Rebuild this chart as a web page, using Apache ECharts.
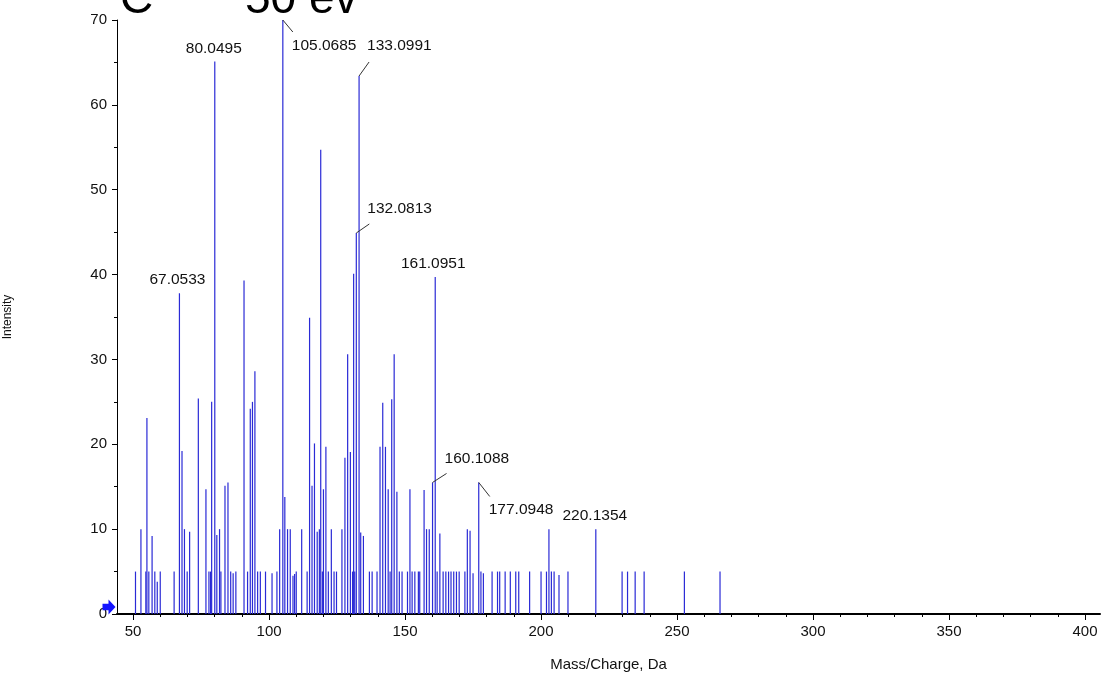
<!DOCTYPE html>
<html>
<head>
<meta charset="utf-8">
<title>50 eV product ion spectrum</title>
<script src="https://cdn.jsdelivr.net/npm/echarts@6/dist/echarts.min.js"></script>
<style>
  html, body { margin: 0; padding: 0; background: #ffffff; }
  #chart { width: 1103px; height: 681px; }
</style>
</head>
<body>
<div id="chart"></div>
<script>
// Centroided peak list: m/z (Da) and relative intensity
const mzValues = [
  50.9, 52.9, 54.7, 55.1, 55.8, 57.0, 58.0, 58.9, 60.0, 65.1,
  67.0533, 68.0, 68.9, 69.9, 70.8, 74.0, 76.8, 77.9, 78.5, 78.9,
  80.0495, 80.8, 81.8, 82.3, 83.8, 84.9, 85.9, 86.8, 87.8, 90.8,
  92.1, 93.1, 93.9, 94.8, 95.8, 96.8, 98.7, 101.1, 102.9, 103.9,
  105.0685, 105.8, 106.8, 107.8, 108.8, 109.4, 110.0, 112.0, 114.0, 114.9,
  115.8, 116.7, 117.7, 118.5, 119.0, 119.6, 120.0, 120.9, 121.8, 122.9,
  123.9, 124.8, 126.8, 127.9, 128.9, 129.9, 130.7, 131.1, 131.5, 132.0813,
  133.0991, 133.7, 134.7, 136.9, 137.9, 139.7, 140.8, 141.8, 142.8, 143.8,
  144.5, 145.1, 146.0, 147.0, 147.9, 148.9, 150.9, 151.8, 152.6, 153.6,
  154.9, 155.4, 157.0, 157.9, 158.9, 160.1088, 161.0951, 161.8, 162.8, 164.0,
  165.0, 166.0, 166.9, 167.9, 168.9, 169.9, 172.0, 172.9, 173.9, 175.0,
  177.0948, 177.9, 178.8, 182.0, 184.0, 184.8, 186.8, 188.7, 190.7, 191.8,
  195.8, 200.0, 202.0, 202.9, 203.8, 204.8, 206.6, 209.9, 220.1354, 229.8,
  231.8, 234.6, 237.9, 252.7, 265.8
];
const intensities = [
  5, 10, 5, 23.1, 5, 9.2, 5, 3.8, 5, 5,
  37.8, 19.2, 10, 5, 9.7, 25.4, 14.7, 5, 5, 25,
  65.1, 9.3, 10, 5, 15.1, 15.5, 5, 4.8, 5, 39.3,
  5, 24.2, 25, 28.6, 5, 5, 5, 4.8, 5, 10,
  70, 13.8, 10, 10, 4.5, 4.7, 5, 10, 5, 34.9,
  15.1, 20.1, 9.7, 10, 54.7, 5, 14.7, 19.7, 5, 10,
  5, 5, 10, 18.4, 30.6, 19.1, 5, 40.1, 5, 44.9,
  63.4, 9.6, 9.2, 5, 5, 5, 19.7, 24.9, 19.7, 14.7,
  5, 25.3, 30.6, 14.4, 5, 5, 5, 14.7, 5, 5,
  5, 5, 14.6, 10, 10, 15.5, 39.7, 5, 9.5, 5,
  5, 5, 5, 5, 5, 5, 5, 10, 9.8, 4.8,
  15.5, 5, 4.8, 5, 5, 5, 5, 5, 5, 5,
  5, 5, 5, 10, 5, 5, 4.6, 5, 10, 5,
  5, 5, 5, 5, 5
];

// Peaks carrying an m/z annotation
const labelledMz = [67.0533, 80.0495, 105.0685, 133.0991, 132.0813, 161.0951, 160.1088, 177.0948, 220.1354];

// Axis ticks
const majorTicks = [50, 100, 150, 200, 250, 300, 350, 400];
const minorTicks = [60, 70, 80, 90, 110, 120, 130, 140, 160, 170, 180, 190, 210, 220, 230, 240,
                    260, 270, 280, 290, 310, 320, 330, 340, 360, 370, 380, 390];

const titleLeft = 'C';
const titleRight = '50 ev';
const xName = 'Mass/Charge, Da';
const yName = 'Intensity';

// Label placement around each annotated peak top (pixels): text anchor offset and optional leader end
const placement = {
  '67.0533':  { dx: -2,  dy: -14, align: 'center' },
  '80.0495':  { dx: -1,  dy: -13, align: 'center' },
  '105.0685': { dx: 9,   dy: 26,  align: 'left', lx: 10, ly: 12 },
  '133.0991': { dx: 8,   dy: -30, align: 'left', lx: 10, ly: -14 },
  '132.0813': { dx: 11,  dy: -24, align: 'left', lx: 13, ly: -9 },
  '161.0951': { dx: -2,  dy: -13, align: 'center' },
  '160.1088': { dx: 12,  dy: -24, align: 'left', lx: 14, ly: -9 },
  '177.0948': { dx: 10,  dy: 27,  align: 'left', lx: 11, ly: 14 },
  '220.1354': { dx: -1,  dy: -13, align: 'center' }
};

const FONT = '"Liberation Sans", Arial, sans-serif';
const peakData = mzValues.map((m, i) => [m, intensities[i]]);
const labelData = labelledMz.map(m => [m, intensities[mzValues.indexOf(m)]]);

const chart = echarts.init(document.getElementById('chart'), null, { renderer: 'canvas' });

chart.setOption({
  animation: false,
  backgroundColor: '#ffffff',
  textStyle: { fontFamily: FONT },
  grid: { left: 117, right: 3, top: 20, bottom: 67, containLabel: false, outerBoundsMode: 'none' },
  graphic: [
    { type: 'text', left: 120, top: -23, silent: true,
      style: { text: titleLeft, font: '46px ' + FONT, fill: '#000' } },
    { type: 'text', left: 245, top: -23, silent: true,
      style: { text: titleRight, font: '46px ' + FONT, fill: '#000' } }
  ],
  xAxis: [
    {
      type: 'value', min: 44.1, max: 405.5,
      name: xName, nameLocation: 'middle', nameGap: 43,
      nameTextStyle: { fontSize: 15, color: '#111', fontFamily: FONT },
      axisLine: { show: true, onZero: false, lineStyle: { color: '#000', width: 2 } },
      axisTick: { show: true, length: 6, customValues: majorTicks, lineStyle: { color: '#000', width: 1 } },
      axisLabel: { customValues: majorTicks, margin: 10, fontSize: 15, color: '#111', fontFamily: FONT },
      splitLine: { show: false }
    },
    {
      type: 'value', min: 44.1, max: 405.5, position: 'bottom',
      axisLine: { show: false },
      axisTick: { show: true, length: 3, customValues: minorTicks, lineStyle: { color: '#000', width: 1 } },
      axisLabel: { show: false },
      splitLine: { show: false }
    }
  ],
  yAxis: {
    type: 'value', min: 0, max: 70, interval: 10,
    name: yName, nameLocation: 'middle', nameGap: 103, nameRotate: 90,
    nameTextStyle: { fontSize: 12, color: '#111', fontFamily: FONT },
    axisLine: { show: true, lineStyle: { color: '#000', width: 1 } },
    axisTick: { show: true, length: 5, lineStyle: { color: '#000' } },
    minorTick: { show: true, splitNumber: 2, length: 3, lineStyle: { color: '#000' } },
    axisLabel: { margin: 10, fontSize: 15, color: '#111', fontFamily: FONT },
    splitLine: { show: false }
  },
  series: [
    {
      type: 'bar',
      xAxisIndex: 0,
      data: peakData,
      barWidth: 1.2,
      itemStyle: { color: '#2a2ad6' },
      silent: true,
      markPoint: {
        silent: true,
        symbol: 'path://M0,4 L6,4 L6,0 L13,7 L6,14 L6,10 L0,10 Z',
        symbolSize: [13, 15],
        symbolOffset: [-8, -7],
        itemStyle: { color: '#1414ff' },
        label: { show: false },
        data: [{ coord: [44.1, 0] }]
      }
    },
    {
      type: 'custom',
      xAxisIndex: 0,
      data: labelData,
      clip: false,
      silent: true,
      z: 5,
      renderItem: function (params, api) {
        const m = api.value(0);
        const pt = api.coord([m, api.value(1)]);
        const key = m.toFixed(4);
        const p = placement[key];
        const children = [];
        if (p.lx !== undefined) {
          children.push({
            type: 'line',
            shape: { x1: pt[0], y1: pt[1], x2: pt[0] + p.lx, y2: pt[1] + p.ly },
            style: { stroke: '#333', lineWidth: 1 }
          });
        }
        children.push({
          type: 'text',
          x: pt[0] + p.dx, y: pt[1] + p.dy,
          style: {
            text: key, font: '15.5px ' + FONT, fill: '#111',
            align: p.align, verticalAlign: 'middle'
          }
        });
        return { type: 'group', children: children };
      }
    }
  ]
});
</script>
</body>
</html>
